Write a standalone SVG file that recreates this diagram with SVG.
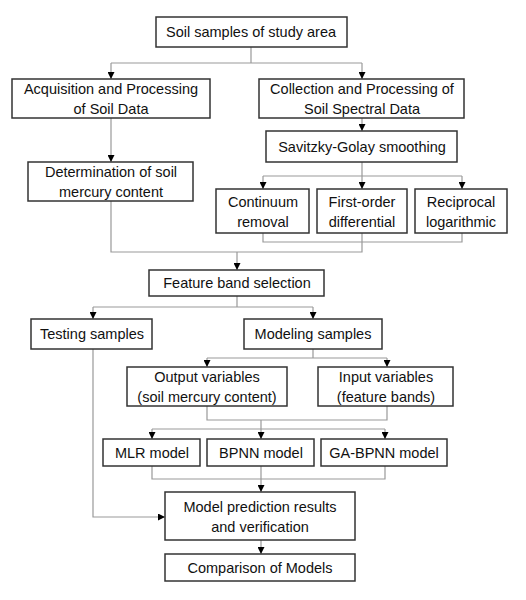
<svg xmlns="http://www.w3.org/2000/svg" width="526" height="600" viewBox="0 0 526 600">
<style>
.box{fill:#fff;stroke:#333;stroke-width:1.5}
.t{font-family:"Liberation Sans",Arial,sans-serif;font-size:14.5px;fill:#111;text-anchor:middle}
.c{fill:none;stroke:#999;stroke-width:1.2}
</style>
<defs>
<marker id="ah" markerWidth="7" markerHeight="7" refX="7" refY="3.5" orient="auto" markerUnits="userSpaceOnUse" viewBox="0 0 7 7">
<path d="M0,0 L7,3.5 L0,7 Z" fill="#000"/>
</marker>
</defs>
<rect width="526" height="600" fill="#fff"/>
<g id="connectors">
<path class="c" d="M251,47 V63 M111,63 H362"/>
<path class="c" d="M111,63 V79" marker-end="url(#ah)"/>
<path class="c" d="M362,63 V79" marker-end="url(#ah)"/>
<path class="c" d="M362,118 V131" marker-end="url(#ah)"/>
<path class="c" d="M111,118 V162" marker-end="url(#ah)"/>
<path class="c" d="M362,162 V176 M263,176 H462"/>
<path class="c" d="M263,176 V189" marker-end="url(#ah)"/>
<path class="c" d="M362,176 V189" marker-end="url(#ah)"/>
<path class="c" d="M462,176 V189" marker-end="url(#ah)"/>
<path class="c" d="M263,233 V242 H462 V233 M362,233 V252 H111 V201"/>
<path class="c" d="M237,252 V270" marker-end="url(#ah)"/>
<path class="c" d="M237,296 V307 M93,307 H313"/>
<path class="c" d="M93,307 V319" marker-end="url(#ah)"/>
<path class="c" d="M313,307 V319" marker-end="url(#ah)"/>
<path class="c" d="M313,349 V358 M207,358 H387"/>
<path class="c" d="M207,358 V367" marker-end="url(#ah)"/>
<path class="c" d="M387,358 V367" marker-end="url(#ah)"/>
<path class="c" d="M207,406 V420 H387 V406"/>
<path class="c" d="M261,420 V429 M152,429 H385"/>
<path class="c" d="M152,429 V439" marker-end="url(#ah)"/>
<path class="c" d="M261,429 V439" marker-end="url(#ah)"/>
<path class="c" d="M385,429 V439" marker-end="url(#ah)"/>
<path class="c" d="M152,466 V479 H385 V466 M261,466 V479"/>
<path class="c" d="M261,479 V492" marker-end="url(#ah)"/>
<path class="c" d="M93,349 V517 H165" marker-end="url(#ah)"/>
<path class="c" d="M261,540 V554" marker-end="url(#ah)"/>
</g>
<g id="n1"><rect class="box" x="156" y="17" width="191" height="30"/><text class="t" x="251" y="37">Soil samples of study area</text></g>
<g id="n2"><rect class="box" x="12" y="79" width="198" height="39"/><text class="t" x="111" y="94">Acquisition and Processing</text><text class="t" x="111" y="114">of Soil Data</text></g>
<g id="n3"><rect class="box" x="259" y="79" width="205" height="39"/><text class="t" x="362" y="94">Collection and Processing of</text><text class="t" x="362" y="114">Soil Spectral Data</text></g>
<g id="n4"><rect class="box" x="266" y="131" width="191" height="31"/><text class="t" x="362" y="152">Savitzky-Golay smoothing</text></g>
<g id="n5"><rect class="box" x="28" y="162" width="165" height="39"/><text class="t" x="111" y="177">Determination of soil</text><text class="t" x="111" y="197">mercury content</text></g>
<g id="n6"><rect class="box" x="216" y="189" width="93" height="44"/><text class="t" x="263" y="207">Continuum</text><text class="t" x="263" y="227">removal</text></g>
<g id="n7"><rect class="box" x="317" y="189" width="90" height="44"/><text class="t" x="362" y="207">First-order</text><text class="t" x="362" y="227">differential</text></g>
<g id="n8"><rect class="box" x="415" y="189" width="92" height="44"/><text class="t" x="461" y="207">Reciprocal</text><text class="t" x="461" y="227">logarithmic</text></g>
<g id="n9"><rect class="box" x="149" y="270" width="175" height="26"/><text class="t" x="237" y="288">Feature band selection</text></g>
<g id="n10"><rect class="box" x="31" y="319" width="121" height="30"/><text class="t" x="92" y="339">Testing samples</text></g>
<g id="n11"><rect class="box" x="244" y="319" width="138" height="30"/><text class="t" x="313" y="339">Modeling samples</text></g>
<g id="n12"><rect class="box" x="127" y="367" width="160" height="39"/><text class="t" x="207" y="382">Output variables</text><text class="t" x="207" y="402">(soil mercury content)</text></g>
<g id="n13"><rect class="box" x="318" y="367" width="135" height="39"/><text class="t" x="386" y="382">Input variables</text><text class="t" x="386" y="402">(feature bands)</text></g>
<g id="n14"><rect class="box" x="103" y="439" width="97" height="27"/><text class="t" x="152" y="458">MLR model</text></g>
<g id="n15"><rect class="box" x="207" y="439" width="107" height="27"/><text class="t" x="261" y="458">BPNN model</text></g>
<g id="n16"><rect class="box" x="321" y="439" width="126" height="27"/><text class="t" x="384" y="458">GA-BPNN model</text></g>
<g id="n17"><rect class="box" x="165" y="492" width="190" height="48"/><text class="t" x="260" y="512">Model prediction results</text><text class="t" x="260" y="532">and verification</text></g>
<g id="n18"><rect class="box" x="165" y="554" width="190" height="27"/><text class="t" x="260" y="573">Comparison of Models</text></g>
</svg>
